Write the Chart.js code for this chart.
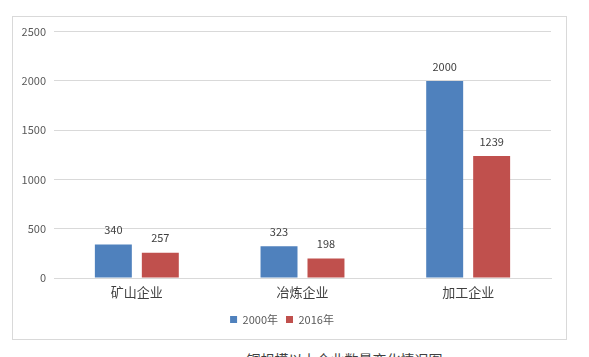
<!DOCTYPE html>
<html><head><meta charset="utf-8">
<script src="https://cdn.jsdelivr.net/npm/chart.js@4"></script>
<style>
html,body{margin:0;padding:0;background:#fff;width:589px;height:357px;overflow:hidden;}
#box{position:absolute;left:12px;top:16px;width:553px;height:322px;border:1px solid #d9d9d9;}
#cap{position:absolute;left:0;width:589px;top:349px;text-align:center;font:14px "Noto Sans CJK SC",sans-serif;color:#404040;padding-left:100px;box-sizing:border-box;}
</style></head><body>
<div id="box"><canvas id="c" width="553" height="322"></canvas></div>
<div id="cap">铜规模以上企业数量变化情况图</div>
<script>
const categories = ['矿山企业','冶炼企业','加工企业'];
const series2000 = [340, 323, 2000];
const series2016 = [257, 198, 1239];
const seriesNames = ['2000年','2016年'];
const yTicks = [0, 500, 1000, 1500, 2000, 2500];
const FONT = '"Noto Sans CJK SC", sans-serif';

const labelPlugin = {
  id:'labels',
  afterDatasetsDraw(chart){
    const ctx = chart.ctx;
    ctx.save();
    ctx.font = '11px ' + FONT;
    ctx.fillStyle = '#404040';
    ctx.textAlign = 'center';
    ctx.textBaseline = 'bottom';
    chart.data.datasets.forEach((ds,i)=>{
      chart.getDatasetMeta(i).data.forEach((el,j)=>{
        ctx.fillText(String(ds.data[j]), el.x, el.y - 9);
      });
    });
    ctx.restore();
  }
};

new Chart(document.getElementById('c'), {
  type:'bar',
  data:{
    labels: categories,
    datasets:[
      {label: seriesNames[0], data: series2000, backgroundColor:'#4F81BD'},
      {label: seriesNames[1], data: series2016, backgroundColor:'#C0504D'}
    ]
  },
  options:{
    responsive:false,
    animation:false,
    devicePixelRatio:1,
    categoryPercentage:0.567,
    barPercentage:0.787,
    layout:{padding:{left:0,right:15,top:14,bottom:4}},
    plugins:{
      legend:{position:'bottom',labels:{boxWidth:7,boxHeight:7,font:{size:11,family:FONT},color:'#595959',padding:8}},
      tooltip:{enabled:false}
    },
    scales:{
      x:{
        grid:{display:false,drawTicks:false},
        border:{color:'#d9d9d9'},
        ticks:{font:{size:13,family:FONT},color:'#404040',padding:6},
        afterFit(s){s.height=28;}
      },
      y:{
        min:0,max:2500,
        afterBuildTicks(s){s.ticks = yTicks.map(v=>({value:v}));},
        grid:{color:'#d9d9d9',drawTicks:false},
        border:{display:false},
        ticks:{font:{size:11,family:FONT},color:'#595959',padding:8,callback:(v)=>String(v)},
        afterFit(s){s.width=41;}
      }
    }
  },
  plugins:[labelPlugin]
});
</script>
</body></html>
